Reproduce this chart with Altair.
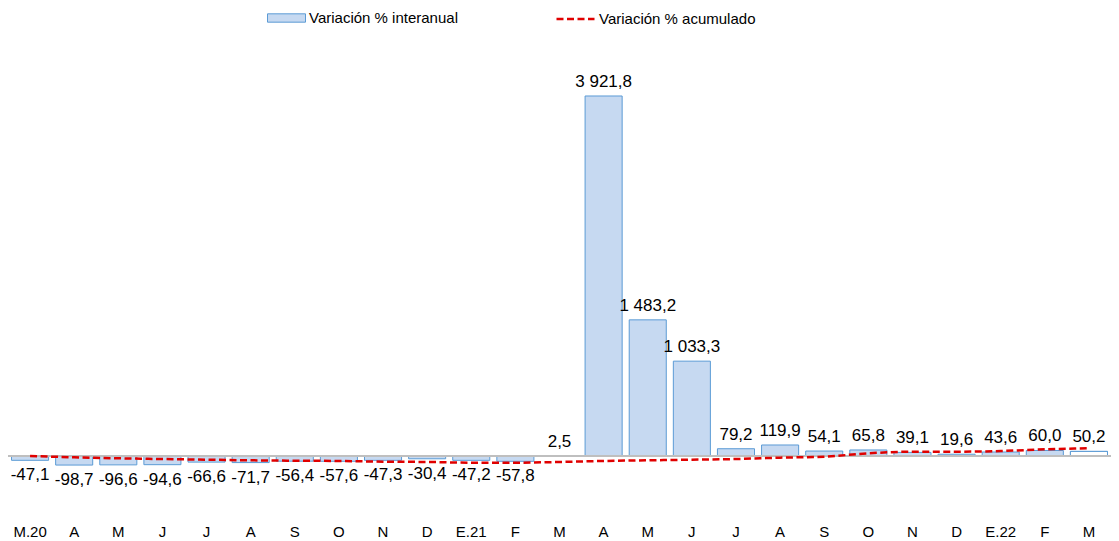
import json
import altair as alt
import pandas as pd

meses = ["M.20", "A", "M", "J", "J", "A", "S", "O", "N", "D", "E.21", "F",
         "M", "A", "M", "J", "J", "A", "S", "O", "N", "D", "E.22", "F", "M"]
interanual = [-47.1, -98.7, -96.6, -94.6, -66.6, -71.7, -56.4, -57.6, -47.3, -30.4,
              -47.2, -57.8, 2.5, 3921.8, 1483.2, 1033.3, 79.2, 119.9, 54.1, 65.8,
              39.1, 19.6, 43.6, 60.0, 50.2]
acumulado = [0, -14, -25, -33, -40, -47, -51, -54, -62, -65, -73, -73, -65, -54,
             -47, -40, -33, -18, -7, 29, 47, 47, 54, 73, 84]

SERIE_B = "Variación % interanual"
SERIE_L = "Variación % acumulado"


def fmt(v):
    s = f"{v:,.1f}"
    return s.replace(",", " ").replace(".", ",")


df = pd.DataFrame({
    "idx": list(range(len(meses))),
    "val": interanual,
    "acum": acumulado,
    "lab": [fmt(v) for v in interanual],
    "cero": 0,
    "sb": SERIE_B,
    "sl": SERIE_L,
})

FONT = "Liberation Sans"
label_expr = json.dumps(meses) + "[datum.value]"

x = alt.X("idx:O",
          scale=alt.Scale(paddingInner=0.16, paddingOuter=0.08),
          axis=alt.Axis(title=None, labelExpr=label_expr, ticks=False,
                        domain=False, labelAngle=0, labelPadding=9,
                        labelFont=FONT, labelFontSize=15, labelColor="black"))
yscale = alt.Scale(domain=[-642.7, 4575.4], nice=False, zero=False)

base = alt.Chart(df)

bars = base.mark_bar(stroke="#5B9BD5", strokeWidth=1).encode(
    x=x,
    y=alt.Y("val:Q", scale=yscale, axis=None),
    fill=alt.Fill("sb:N",
                  scale=alt.Scale(domain=[SERIE_B], range=["#C6D9F1"]),
                  legend=alt.Legend(title=None, orient="none", legendX=259, legendY=-37.5,
                                    symbolType="M-1,-0.22H1V0.22H-1Z", symbolSize=1444,
                                    symbolStrokeColor="#5B9BD5", symbolStrokeWidth=1,
                                    labelFont=FONT, labelFontSize=15, labelColor="black",
                                    labelOffset=3)),
)

last_bar = base.transform_filter("datum.idx == 24").mark_bar(
    stroke="#5B9BD5", strokeWidth=1, fill="white").encode(
    x=x, y=alt.Y("val:Q", scale=yscale, axis=None))

zero = base.mark_rule(color="#BFBFBF", strokeWidth=1.5).encode(
    y=alt.Y("cero:Q", scale=yscale, axis=None))

line_legend = alt.Legend(title=None, orient="none", legendX=547, legendY=-37.5,
                         symbolType="stroke", symbolSize=1444, symbolStrokeWidth=2.5,
                         labelFont=FONT, labelFontSize=15, labelColor="black",
                         labelOffset=3)

line = base.mark_line(strokeWidth=2.5, interpolate="monotone").encode(
    x=x,
    y=alt.Y("acum:Q", scale=yscale, axis=None),
    stroke=alt.Stroke("sl:N",
                      scale=alt.Scale(domain=[SERIE_L], range=["#E00000"]),
                      legend=line_legend),
    strokeDash=alt.StrokeDash("sl:N",
                              scale=alt.Scale(domain=[SERIE_L], range=[[7, 3.5]]),
                              legend=line_legend),
)

pos_text = base.transform_filter("datum.val >= 0").mark_text(
    baseline="alphabetic", dy=-9, fontSize=17, font=FONT, color="black").encode(
    x=x, y=alt.Y("val:Q", scale=yscale, axis=None), text="lab:N")

neg_text = base.transform_filter("datum.val < 0").mark_text(
    baseline="top", dy=7, fontSize=17, font=FONT, color="black").encode(
    x=x, y=alt.Y("val:Q", scale=yscale, axis=None), text="lab:N")

chart = alt.layer(bars, last_bar, zero, line, pos_text, neg_text).properties(
    width=1103, height=479,
    autosize=alt.AutoSizeParams(type="none"),
    padding={"left": 0, "top": 28, "right": 0, "bottom": 26},
).configure(font=FONT).configure_view(stroke=None)

chart.save("out.html", embed_options={"renderer": "svg", "actions": False})
